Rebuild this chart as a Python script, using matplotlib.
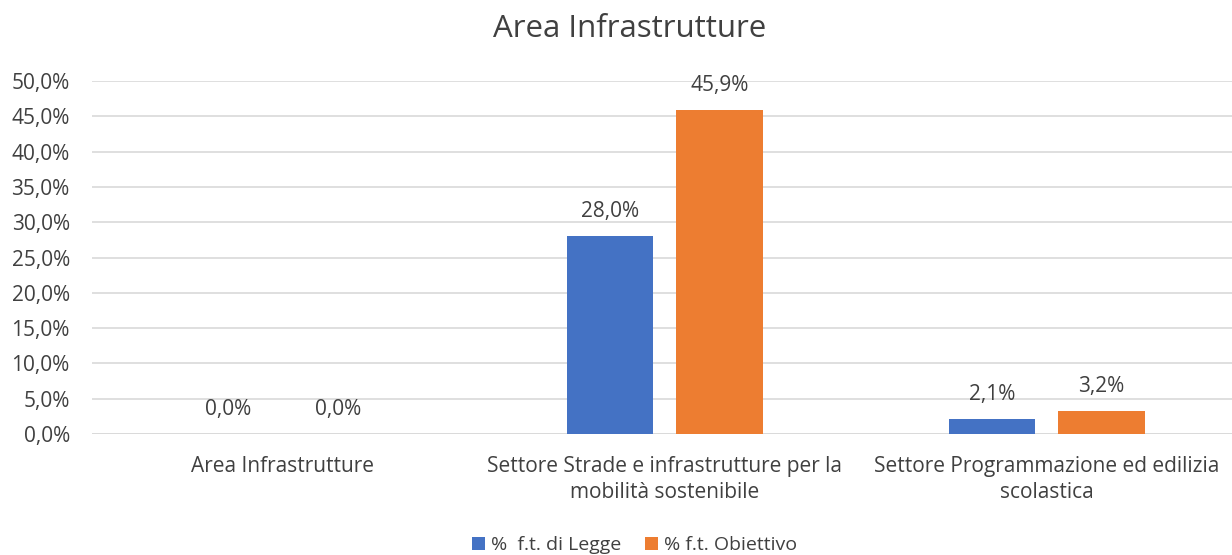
import matplotlib.pyplot as plt
import numpy as np

plt.rcParams['font.family'] = ['Open Sans', 'DejaVu Sans']

categories = ["Area Infrastrutture",
              "Settore Strade e infrastrutture per la\nmobilità sostenibile",
              "Settore Programmazione ed edilizia\nscolastica"]
legge = [0.0, 28.0, 2.1]
obiettivo = [0.0, 45.9, 3.2]
series_names = ["%  f.t. di Legge", "% f.t. Obiettivo"]

TXT = '#404040'
BLUE = '#4472C4'
ORANGE = '#ED7D31'


def fmt(v):
    return f"{v:.1f}%".replace('.', ',')


fig = plt.figure(figsize=(12.32, 5.55), dpi=100)
ax = fig.add_axes([0.0747, 0.218, 0.930, 0.636])

x = np.arange(len(categories))
w = 0.227
off = (w + 0.06) / 2
b1 = ax.bar(x - off, legge, w, color=BLUE, label=series_names[0], zorder=3)
b2 = ax.bar(x + off, obiettivo, w, color=ORANGE, label=series_names[1], zorder=3)

for bars, vals in ((b1, legge), (b2, obiettivo)):
    for r, v in zip(bars, vals):
        ax.text(r.get_x() + r.get_width() / 2, v + 2.0, fmt(v),
                ha='center', va='bottom', fontsize=15, color=TXT)

ax.set_xlim(-0.5, 2.5)
ax.set_ylim(0, 50)
ax.set_yticks(np.arange(0, 51, 5))
ax.set_yticklabels([fmt(t) for t in np.arange(0, 51, 5)], fontsize=15, color=TXT)
ax.set_xticks(x)
ax.set_xticklabels(categories, fontsize=15, color=TXT, linespacing=1.3)
ax.tick_params(axis='both', length=0)
ax.tick_params(axis='y', pad=16)
ax.tick_params(axis='x', pad=16)
ax.grid(axis='y', color='#D9D9D9', linewidth=1.2, zorder=0)
for s in ax.spines.values():
    s.set_visible(False)
ax.axhline(0, color='#D9D9D9', linewidth=1.2, zorder=2)

fig.text(0.511, 0.948, "Area Infrastrutture", ha='center', va='center',
         fontsize=22.5, color=TXT)

fig.legend(loc='lower center', bbox_to_anchor=(0.515, -0.03), ncol=2,
           frameon=False, fontsize=14, labelcolor=TXT, handlelength=0.7,
           handleheight=0.7, handletextpad=0.3, columnspacing=1.2)

fig.savefig('out.png', dpi=100)
